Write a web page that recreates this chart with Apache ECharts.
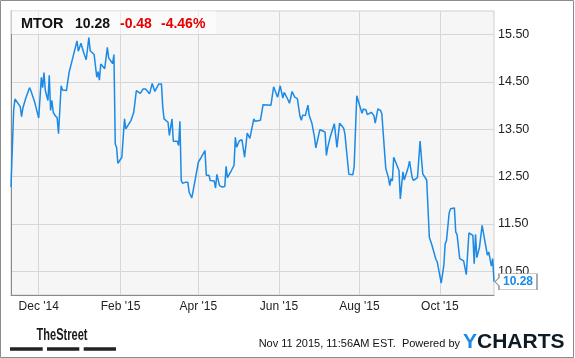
<!DOCTYPE html>
<html><head><meta charset="utf-8">
<script src="https://cdn.jsdelivr.net/npm/echarts@6/dist/echarts.min.js"></script>
<style>html,body{margin:0;padding:0;background:#fff}#c{width:575px;height:358px}</style>
</head><body><div id="c"></div>
<script>
// Day offset from Nov 11, 2014 (calendar days)
const days = [-1,0,1,2,6,7,8,10,13,14,17,20,22,23,24,25,27,28,29,30,31,32,34,35,37,38,41,43,45,49,50,52,54,56,58,59,62,64,65,66,67,70,72,73,76,77,78,79,80,83,85,86,90,91,92,94,97,99,101,104,106,108,111,113,114,115,118,119,121,122,125,126,127,128,129,131,133,134,136,138,141,143,146,147,149,150,153,154,155,157,159,161,162,163,166,168,169,170,172,174,176,178,180,183,184,188,190,191,196,198,200,201,203,205,206,209,210,212,214,216,218,219,220,222,224,225,227,229,230,231,233,235,237,238,239,241,244,246,247,248,251,252,255,258,259,261,263,265,266,268,269,270,272,274,275,277,279,280,282,283,285,286,287,288,289,290,293,294,296,297,300,301,303,304,307,309,311,314,316,318,321,322,323,325,327,328,329,331,332,335,336,337,339,340,342,343,344,346,349,350,351,352,354,356,358,360,361,363,364,365];
const prices = [12.28,12.28,13.90,14.14,13.98,13.77,13.95,14.14,14.38,14.32,14.07,13.74,14.60,14.38,14.70,14.32,14.11,14.64,13.90,14.11,13.86,13.81,13.74,13.41,14.42,14.33,14.32,14.70,14.92,15.37,15.15,15.32,15.13,14.97,15.44,15.16,15.08,14.60,14.72,14.54,14.88,14.78,15.23,15.01,14.89,15.08,13.19,13.12,12.78,12.91,13.72,13.51,13.69,13.65,13.86,14.32,14.26,14.35,14.35,14.25,14.47,14.30,14.46,14.46,13.97,13.72,13.65,13.37,13.72,13.25,13.25,13.16,13.67,12.42,12.36,12.38,12.38,12.17,12.05,12.35,12.81,12.90,13.05,12.53,12.53,12.42,12.41,12.26,12.55,12.31,12.28,12.29,12.72,12.48,12.63,12.74,13.33,13.12,13.26,13.28,12.91,13.42,13.31,13.72,13.67,13.69,14.02,14.02,14.01,14.40,14.25,14.18,14.42,14.16,14.28,14.12,14.05,14.30,14.18,14.15,13.77,13.69,13.80,13.79,14.01,13.79,13.63,13.33,13.11,13.11,13.49,13.47,13.44,12.95,13.12,13.35,13.62,13.12,13.11,13.63,13.53,13.41,12.55,12.54,12.70,14.21,14.02,13.84,13.93,13.91,13.81,13.84,13.86,13.79,13.63,13.93,13.90,13.83,13.05,12.67,12.48,12.31,12.46,12.41,12.91,12.88,12.63,12.03,12.60,12.43,12.70,12.83,12.48,12.42,12.48,13.25,12.56,12.43,11.22,11.05,10.75,10.70,10.66,10.25,10.63,11.08,11.15,11.73,11.82,11.84,11.33,11.28,10.77,10.73,10.72,10.70,10.43,11.31,11.26,10.66,11.28,10.79,11.01,11.47,11.15,10.84,10.91,10.61,10.77,10.28];
const monthTickDays = [20, 82, 141, 202, 263, 324];
const monthTickLabels = ["Dec '14", "Feb '15", "Apr '15", "Jun '15", "Aug '15", "Oct '15"];
const priceTicks = [10.5, 11.5, 12.5, 13.5, 14.5, 15.5];
const ticker = 'MTOR', lastPriceText = '10.28', changeText = '-0.48', changePctText = '-4.46%';
const footerText = 'Nov 11 2015, 11:56AM EST.  Powered by';

const FONT = "'Liberation Sans', Arial, sans-serif";
const chart = echarts.init(document.getElementById('c'), null, {renderer: 'canvas'});
const lastIdx = days.length - 1;
chart.setOption({
  animation: false,
  backgroundColor: '#fff',
  textStyle: {fontFamily: FONT},
  grid: {left: 11, right: 81, top: 11, bottom: 63, show: true, backgroundColor: '#f6f6f6', borderColor: '#cfcfcf', borderWidth: 1},
  xAxis: {
    type: 'value', min: -1, max: 365,
    axisLine: {show: true, lineStyle: {color: '#8a8a8a', width: 1}},
    axisTick: {show: false, customValues: monthTickDays},
    axisLabel: {customValues: monthTickDays, formatter: v => monthTickLabels[monthTickDays.indexOf(v)], color: '#222', fontSize: 12, margin: 6, fontFamily: FONT},
    splitLine: {show: true, lineStyle: {color: '#d6d6d6', width: 1}}
  },
  yAxis: [{
    type: 'value', position: 'right', min: 10, max: 16,
    axisLine: {show: false},
    axisTick: {show: false, customValues: priceTicks},
    axisLabel: {customValues: priceTicks, formatter: v => v.toFixed(2), color: '#222', fontSize: 12.5, margin: 4, fontFamily: FONT},
    splitLine: {show: true, lineStyle: {color: '#d6d6d6', width: 1}}
  }, {
    type: 'value', position: 'left', min: 10, max: 16,
    axisLine: {show: true, onZero: false, lineStyle: {color: '#8a8a8a', width: 1}},
    axisTick: {show: false}, axisLabel: {show: false}, splitLine: {show: false}
  }],
  series: [{
    type: 'line', yAxisIndex: 0, showSymbol: false, z: 3,
    data: days.map((d, i) => [d, prices[i]]),
    lineStyle: {color: '#1a8ae6', width: 1.5},
    itemStyle: {color: '#1a8ae6'},
    markPoint: {
      silent: true,
      symbol: 'path://M0,8 L4,4 L4,0 L42,0 L42,16 L4,16 L4,12 Z',
      symbolSize: [42, 16],
      symbolOffset: [22, 0],
      itemStyle: {color: '#fff', borderColor: '#9a9a9a', borderWidth: 1},
      label: {show: true, position: 'inside', offset: [2, 0], color: '#1a8ae6', fontWeight: 'bold', fontSize: 12, fontFamily: FONT, formatter: () => prices[lastIdx].toFixed(2)},
      data: [{coord: [days[lastIdx], prices[lastIdx]]}]
    }
  }],
  graphic: [
    {type: 'rect', z: 10, shape: {x: 11, y: 11, width: 205, height: 23}, style: {fill: 'rgba(255,255,255,0.55)'}},
    {type: 'text', z: 11, x: 21, y: 24, style: {text: ticker, fill: '#111', font: 'bold 14.5px ' + FONT, textVerticalAlign: 'middle'}},
    {type: 'text', z: 11, x: 75, y: 24, style: {text: lastPriceText, fill: '#111', font: 'bold 14px ' + FONT, textVerticalAlign: 'middle'}},
    {type: 'text', z: 11, x: 120, y: 24, style: {text: changeText, fill: '#e60000', font: 'bold 14px ' + FONT, textVerticalAlign: 'middle'}},
    {type: 'text', z: 11, x: 161, y: 24, style: {text: changePctText, fill: '#e60000', font: 'bold 14px ' + FONT, textVerticalAlign: 'middle'}},
    {type: 'text', z: 11, x: 36.5, y: 335, scaleX: 0.67, style: {text: 'TheStreet', fill: '#1a1a1a', font: 'bold 16.5px ' + FONT, textVerticalAlign: 'middle'}},
    {type: 'rect', z: 11, shape: {x: 10, y: 347.3, width: 32.7, height: 3.4}, style: {fill: '#222'}},
    {type: 'rect', z: 11, shape: {x: 47, y: 347.3, width: 32.3, height: 3.4}, style: {fill: '#222'}},
    {type: 'rect', z: 11, shape: {x: 83.7, y: 347.3, width: 32.3, height: 3.4}, style: {fill: '#222'}},
    {type: 'text', z: 11, x: 460, y: 344, style: {text: footerText, fill: '#111', font: '11px ' + FONT, textAlign: 'right', textVerticalAlign: 'middle'}},
    {type: 'text', z: 11, x: 463, y: 342, style: {
      text: '{y|Y}{c|CHARTS}', textVerticalAlign: 'middle',
      rich: {y: {fill: '#1a8ae6', font: 'bold 21px ' + FONT}, c: {fill: '#0e1a24', font: 'bold 21px ' + FONT}}
    }},
    {type: 'rect', z: 12, shape: {x: 0.5, y: 0.5, width: 573, height: 357}, style: {fill: null, stroke: '#8c8c8c', lineWidth: 1}}
  ]
});
</script>
</body></html>
